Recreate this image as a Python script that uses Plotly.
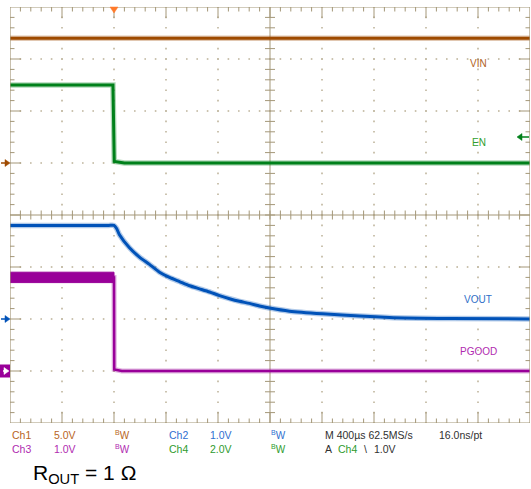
import plotly.graph_objects as go

# ---------------- data ----------------
# time in microseconds, 400 us/div, trigger at t = 0
t_vin = [-800, 3200]
vin = [12.0, 12.0]

t_en = [-800, -8, 2, 30, 80, 3200]
en = [3.0, 3.0, 0.06, 0.04, 0.0, 0.0]

t_vout = [-800, -400, -150, -40, 0, 20, 42, 119, 196, 273, 350, 427, 504, 581, 658, 735, 812,
          889, 965, 1042, 1119, 1196, 1350, 1604, 2119, 2580, 3200]
vout = [1.80, 1.80, 1.80, 1.80, 1.80, 1.74, 1.62, 1.37, 1.19, 1.05, 0.90, 0.80, 0.72, 0.64, 0.58,
        0.52, 0.45, 0.39, 0.34, 0.30, 0.25, 0.21, 0.15, 0.10, 0.03, 0.01, 0.0]

t_pgood = [-800, 0, 2, 60, 3200]
pgood = [1.80, 1.80, 0.03, 0.0, 0.0]
t_pgood_env = [-800, 0]
pgood_env_hi = [1.90, 1.90]
pgood_env_lo = [1.70, 1.70]

# channel settings: (volts/div, ground position in divisions from bottom)
ch1_scale, ch1_pos = 5.0, 5.0   # VIN
ch2_scale, ch2_pos = 1.0, 2.0   # VOUT
ch3_scale, ch3_pos = 1.0, 1.0   # PGOOD
ch4_scale, ch4_pos = 2.0, 5.0   # EN
trig_level = 1.0

labels = ["VIN", "EN", "VOUT", "PGOOD"]
bottom_row1 = ["Ch1", "5.0V", "Ch2", "1.0V", "M 400\u00b5s 62.5MS/s", "16.0ns/pt"]
bottom_row2 = ["Ch3", "1.0V", "Ch4", "2.0V", "A", "Ch4", "\\", "1.0V"]

# ---------------- styling ----------------
C_VIN = "#9E4A00"
C_EN = "#00801A"
C_VOUT = "#0052B8"
C_PG = "#990099"
C_GRID = "#A49778"
C_DOT = "#BEB49C"
T0, T1 = -800, 3200
DIV_T = 400.0
PX_T = DIV_T / 52.0   # us per pixel
PX_Y = 1.0 / 52.0     # div per pixel

W, H = 531, 489
ML, MR, MT, MB = 10, 1, 7, 66


def to_div(vals, scale, pos):
    return [v / scale + pos for v in vals]


fig = go.Figure()

# ----- dotted graticule -----
dx, dy = [], []
for k in range(1, 10):
    if k == 5:
        continue
    t = T0 + k * DIV_T
    for j in range(0, 41):
        dx.append(t)
        dy.append(j * 0.2)
for k in range(1, 8):
    if k == 4:
        continue
    for j in range(0, 51):
        dx.append(T0 + j * DIV_T / 5)
        dy.append(k)
fig.add_trace(go.Scatter(x=dx, y=dy, mode="markers",
                         marker=dict(symbol="square", size=1.6, color=C_DOT, line=dict(width=0)),
                         hoverinfo="skip"))

# ----- ticks (edges and centre cross) -----
tx, ty = [], []
for j in range(1, 50):
    t = T0 + j * DIV_T / 5
    major = (j % 5 == 0)
    L = 11 if major else 4.5
    tx += [t, t, None]
    ty += [8, 8 - L * PX_Y, None]
    tx += [t, t, None]
    ty += [0, L * PX_Y, None]
    tx += [t, t, None]
    ty += [4 - 4.5 * PX_Y, 4 + 4.5 * PX_Y, None]
for j in range(1, 40):
    y = j * 0.2
    major = (j % 5 == 0)
    L = 11 if major else 4.5
    tx += [T0, T0 + L * PX_T, None]
    ty += [y, y, None]
    tx += [T1, T1 - L * PX_T, None]
    ty += [y, y, None]
    tx += [1200 - 5 * PX_T, 1200 + 5 * PX_T, None]
    ty += [y, y, None]
fig.add_trace(go.Scatter(x=tx, y=ty, mode="lines",
                         line=dict(color=C_GRID, width=1), hoverinfo="skip"))
fig.add_trace(go.Scatter(x=[T0, T1, None, 1200, 1200], y=[4, 4, None, 0, 8], mode="lines",
                         line=dict(color=C_GRID, width=1), hoverinfo="skip"))


# ----- waveforms -----
def add_wave(t, v, scale, pos, color, width=3, shape="linear"):
    y = to_div(v, scale, pos)
    ln = dict(color=color, width=width + 2.5, shape=shape)
    if shape == "spline":
        ln["smoothing"] = 0.6
    fig.add_trace(go.Scatter(x=t, y=y, mode="lines", line=ln, opacity=0.3, hoverinfo="skip"))
    ln2 = dict(ln, width=width)
    fig.add_trace(go.Scatter(x=t, y=y, mode="lines", line=ln2, hoverinfo="skip"))


add_wave(t_vin, vin, ch1_scale, ch1_pos, C_VIN)
add_wave(t_en, en, ch4_scale, ch4_pos, C_EN)
env_x = t_pgood_env + t_pgood_env[::-1]
env_y = to_div(pgood_env_hi, ch3_scale, ch3_pos) + to_div(pgood_env_lo, ch3_scale, ch3_pos)[::-1]
fig.add_trace(go.Scatter(x=env_x, y=env_y, mode="lines", fill="toself",
                         fillcolor=C_PG, line=dict(color=C_PG, width=1), hoverinfo="skip"))
add_wave(t_pgood, pgood, ch3_scale, ch3_pos, C_PG, width=2.5)
add_wave(t_vout, vout, ch2_scale, ch2_pos, C_VOUT, shape="spline")

fig.add_shape(type="rect", xref="x", yref="y", x0=T0, x1=T1, y0=0, y1=8,
              line=dict(color=C_GRID, width=1.2))


# ----- markers outside / on the graticule (pixel helpers) -----
def px(x):
    return (x - ML) / (W - ML - MR)


def py(y):
    return (H - MB - y) / (H - MT - MB)


def arrow_right(yc, color, x0=1, x1=10):
    fig.add_shape(type="path", xref="paper", yref="paper",
                  path=f"M {px(x1)} {py(yc)} L {px(x1-5)} {py(yc-3.5)} L {px(x1-5)} {py(yc+3.5)} Z",
                  fillcolor=color, line=dict(color=color, width=0.5))
    fig.add_shape(type="line", xref="paper", yref="paper", x0=px(x0), x1=px(x1 - 4),
                  y0=py(yc), y1=py(yc), line=dict(color=color, width=1.5))


g1 = H - MB - ch1_pos * 52
g2 = H - MB - ch2_pos * 52
g3 = H - MB - ch3_pos * 52
arrow_right(g1, C_VIN)
arrow_right(g2, C_VOUT)
fig.add_shape(type="rect", xref="paper", yref="paper", x0=px(0), x1=px(10),
              y0=py(g3 - 6.5), y1=py(g3 + 6.5), fillcolor=C_PG, line=dict(width=0))
arrow_right(g3, "white", x0=3, x1=9)

ty_px = H - MB - (trig_level / ch4_scale + ch4_pos) * 52
fig.add_shape(type="path", xref="paper", yref="paper",
              path=f"M {px(517)} {py(ty_px)} L {px(522)} {py(ty_px-3.5)} L {px(522)} {py(ty_px+3.5)} Z",
              fillcolor=C_EN, line=dict(color=C_EN, width=0.5))
fig.add_shape(type="line", xref="paper", yref="paper", x0=px(521), x1=px(529),
              y0=py(ty_px), y1=py(ty_px), line=dict(color=C_EN, width=1.5))
fig.add_shape(type="path", xref="x", yref="paper",
              path=f"M {0} {py(13)} L {-4*PX_T} {py(7)} L {4*PX_T} {py(7)} Z",
              fillcolor="#FF7A2A", line=dict(color="#FF7A2A", width=0.5))

FONT = "Liberation Sans, Arial, sans-serif"

lab_pos = [(478, 63.5, "#B0621C"), (479, 143, "#2E9E2E"), (478, 299, "#2F6FC8"), (478, 351, "#B02AB0")]
for txt, (x, y, c) in zip(labels, lab_pos):
    fig.add_annotation(x=px(x), y=py(y), xref="paper", yref="paper", text=txt, showarrow=False,
                       xanchor="center", yanchor="middle", font=dict(family=FONT, size=10, color=c))

C1, C2, C3, C4, CK = "#B8651E", "#2F6FD0", "#B02AB0", "#2E9B2E", "#303030"
row1_cols = [C1, C1, C2, C2, CK, CK]
row1_x = [10, 52, 167, 208, 323, 437]
row2_cols = [C3, C3, C4, C4, CK, C4, CK, CK]
row2_x = [10, 52, 167, 208, 323, 336, 362, 372]
for txt, x, c in zip(bottom_row1, row1_x, row1_cols):
    fig.add_annotation(x=px(x), y=py(435), xref="paper", yref="paper", text=txt, showarrow=False,
                       xanchor="left", yanchor="middle", font=dict(family=FONT, size=10.5, color=c))
for txt, x, c in zip(bottom_row2, row2_x, row2_cols):
    fig.add_annotation(x=px(x), y=py(448.5), xref="paper", yref="paper", text=txt, showarrow=False,
                       xanchor="left", yanchor="middle", font=dict(family=FONT, size=10.5, color=c))
for x, y, c in [(113, 435, C1), (269, 435, C2), (113, 448.5, C3), (269, 448.5, C4)]:
    fig.add_annotation(x=px(x), y=py(y), xref="paper", yref="paper", text="<sup>B</sup>W",
                       showarrow=False, xanchor="left", yanchor="middle",
                       font=dict(family=FONT, size=10, color=c))

fig.add_annotation(x=px(31), y=py(474), xref="paper", yref="paper",
                   text="R<sub>OUT</sub> = 1 \u03a9", showarrow=False, xanchor="left", yanchor="middle",
                   font=dict(family=FONT, size=21, color="black"))

fig.update_layout(
    width=W, height=H, margin=dict(l=ML, r=MR, t=MT, b=MB),
    paper_bgcolor="white", plot_bgcolor="white", showlegend=False, hovermode=False,
    xaxis=dict(range=[T0, T1], visible=False, fixedrange=True),
    yaxis=dict(range=[0, 8], visible=False, fixedrange=True),
)
fig.write_html("out.html", config={"displayModeBar": False},
               post_script="document.body.style.margin='0';")
